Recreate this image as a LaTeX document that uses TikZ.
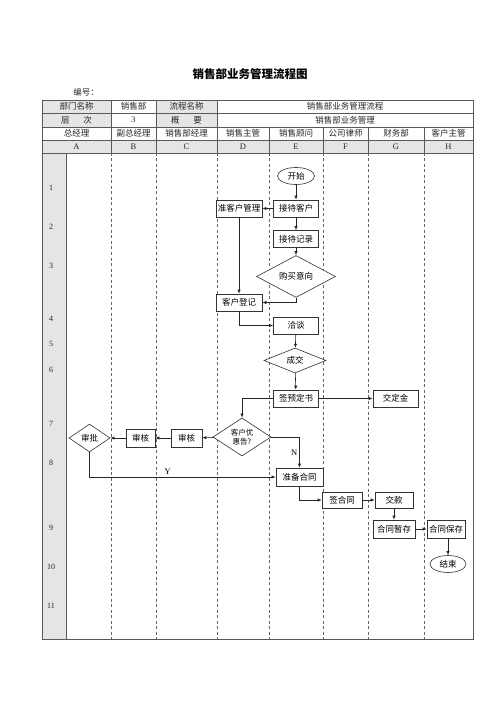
\documentclass[tikz,border=0pt]{standalone}
\usepackage{fontspec}
\setmainfont{Liberation Serif}
\newfontfamily\cjk{Noto Sans CJK SC}
\usetikzlibrary{shapes.geometric,arrows.meta}
\begin{document}
\begin{tikzpicture}[x=1pt,y=-1pt,
  tline/.style={draw=black!65,line width=0.6pt},
  lane/.style={draw=black!60,line width=0.5pt,dash pattern=on 3pt off 2.5pt},
  hdr/.style={font=\cjk\fontsize{8.5}{9}\selectfont,inner sep=0pt,text=black!85},
  lat/.style={font=\fontsize{8.5}{9}\selectfont,inner sep=0pt,text=black!85},
  box/.style={draw=black!80,line width=0.6pt,fill=white,rectangle,minimum width=45pt,minimum height=17pt,inner sep=0pt,font=\cjk\fontsize{8.5}{9}\selectfont},
  dia/.style={draw=black!80,line width=0.6pt,fill=white,diamond,inner sep=0pt,font=\cjk\fontsize{8.5}{9}\selectfont},
  term/.style={draw=black!80,line width=0.6pt,fill=white,ellipse,minimum width=37pt,minimum height=17pt,inner sep=0pt,font=\cjk\fontsize{8.5}{9}\selectfont},
  arr/.style={draw=black!85,line width=0.6pt,-{Latex[length=4pt,width=3.2pt]}},
  lbl/.style={font=\fontsize{8.5}{9}\selectfont,inner sep=1pt}
]
\useasboundingbox (0,0) rectangle (500,708);
\fill[white] (0,0) rectangle (500,708);

% title
\node[font=\cjk\bfseries\fontsize{11.5}{12}\selectfont] (title) at (250,74) {销售部业务管理流程图};
\node[hdr] (bianhao) at (86,92) {编号：};

% header fills
\fill[black!10] (42,100) rectangle (111,127);
\fill[black!10] (156,100) rectangle (217,127);
\fill[black!10] (42,140) rectangle (473,153);
% left strip
\fill[black!10] (42,153) rectangle (66,639);

% table lines
\draw[tline] (42,100) rectangle (473,639);
\foreach \yy in {113,127,140,153} \draw[tline] (42,\yy) -- (473,\yy);
\foreach \xx in {111,156,217} \draw[tline] (\xx,100) -- (\xx,127);
\foreach \xx in {111,156,217,269,323,368,424} \draw[tline] (\xx,127) -- (\xx,153);
\draw[tline] (66,153) -- (66,639);
\foreach \xx in {111,156,217,269,323,368,424} \draw[lane] (\xx,153) -- (\xx,639);

% header texts
\node[hdr] (h11) at (76.5,106.5) {部门名称};
\node[hdr] (h12) at (133.5,106.5) {销售部};
\node[hdr] (h13) at (186.5,106.5) {流程名称};
\node[hdr] (h14) at (345,106.5) {销售部业务管理流程};
\node[hdr] (h21) at (76.5,120) {层\hspace{1.6em}次};
\node[lat] (h22) at (133.5,120) {3};
\node[hdr] (h23) at (186.5,120) {概\hspace{1.6em}要};
\node[hdr] (h24) at (345,120) {销售部业务管理};
\node[hdr] (c1) at (76.5,133.5) {总经理};
\node[hdr] (c2) at (133.5,133.5) {副总经理};
\node[hdr] (c3) at (186.5,133.5) {销售部经理};
\node[hdr] (c4) at (243,133.5) {销售主管};
\node[hdr] (c5) at (296,133.5) {销售顾问};
\node[hdr] (c6) at (345.5,133.5) {公司律师};
\node[hdr] (c7) at (396,133.5) {财务部};
\node[hdr] (c8) at (448.5,133.5) {客户主管};
\node[lat] (lA) at (76.5,146.5) {A};
\node[lat] (lB) at (133.5,146.5) {B};
\node[lat] (lC) at (186.5,146.5) {C};
\node[lat] (lD) at (243,146.5) {D};
\node[lat] (lE) at (296,146.5) {E};
\node[lat] (lF) at (345.5,146.5) {F};
\node[lat] (lG) at (396,146.5) {G};
\node[lat] (lH) at (448.5,146.5) {H};

% row numbers
\foreach \n/\yy in {1/188,2/227,3/266,4/319,5/344,6/370,7/424,8/463,9/528,10/567,11/606}
  \node[lat,font=\fontsize{8}{9}\selectfont] (r\n) at (51,\yy) {\n};

% nodes
\node[term] (start) at (296,176) {开始};
\node[box] (jdkh) at (296,208.5) {接待客户};
\node[box,minimum width=46pt] (zkh) at (239,208.5) {准客户管理};
\node[box] (jdjl) at (296,239) {接待记录};
\node[dia,minimum width=79pt,minimum height=22pt] (gmyx) at (296,276.5) {购买意向};
\node[box,minimum width=46pt] (khdj) at (239,302.5) {客户登记};
\node[box] (qt) at (296,325.5) {洽谈};
\node[dia,minimum width=62pt,minimum height=25pt] (cj) at (295,360.5) {成交};
\node[box] (qyds) at (296,398.5) {签预定书};
\node[box] (jdj) at (395.5,398.5) {交定金};
\node[dia,minimum width=58pt,minimum height=36pt,align=center,font=\cjk\fontsize{7.5}{8.5}\selectfont] (khyh) at (242,437) {客户优\\惠告?};
\node[box,minimum width=31pt,minimum height=18pt] (sh1) at (186.5,438) {审核};
\node[box,minimum width=29pt,minimum height=18pt] (sh2) at (140.5,438) {审核};
\node[dia,minimum width=41pt,minimum height=28pt] (sp) at (89.5,438) {审批};
\node[box,minimum width=47pt,minimum height=18pt] (zbht) at (299.5,477) {准备合同};
\node[box,minimum width=40pt,minimum height=16pt] (qht) at (342,500) {签合同};
\node[box,minimum width=38pt,minimum height=16pt] (jk) at (394,500) {交款};
\node[box,minimum width=42pt,minimum height=18pt] (htzc) at (394,529) {合同暂存};
\node[box,minimum width=38pt,minimum height=18pt] (htbc) at (446,529) {合同保存};
\node[term,minimum width=36pt] (js) at (448,564) {结束};

% connectors
\draw[arr] (start) -- (jdkh);
\draw[arr] (jdkh) -- (zkh);
\draw[arr] (jdkh) -- (jdjl);
\draw[arr] (jdjl) -- (gmyx);
\draw[arr] (zkh) -- (khdj);
\draw[arr] (gmyx.south) |- (khdj.east);
\draw[arr] (khdj.south) |- (qt.west);
\draw[arr] (qt) -- (cj);
\draw[arr] (cj) -- (qyds);
\draw[arr] (qyds) -- (jdj);
\draw[arr] (qyds.west) -| (khyh.north);
\draw[arr] (khyh) -- (sh1);
\draw[arr] (sh1) -- (sh2);
\draw[arr] (sh2) -- (sp);
\draw[arr] (khyh.east) -| node[lbl,pos=0.75,left=1pt] {N} (zbht.north);
\draw[arr] (sp.south) |- node[lbl,pos=0.71,above=1pt] {Y} (zbht.west);
\draw[arr] (zbht.south) |- (qht.west);
\draw[arr] (qht) -- (jk);
\draw[arr] (jk) -- (htzc);
\draw[arr] (htzc) -- (htbc);
\draw[arr] (htbc.south -| js.north) -- (js.north);
\end{tikzpicture}
\end{document}
